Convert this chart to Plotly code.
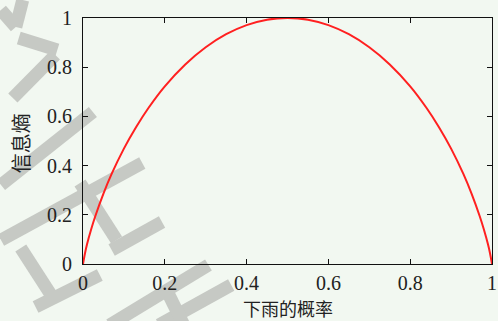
import plotly.graph_objects as go

# Probability of rain and the corresponding entropy (bits)
rain_prob = [0, 0.005, 0.01, 0.02, 0.03, 0.05, 0.07, 0.10, 0.13, 0.16, 0.20, 0.25,
             0.30, 0.35, 0.40, 0.45, 0.50, 0.55, 0.60, 0.65, 0.70, 0.75, 0.80,
             0.84, 0.87, 0.90, 0.93, 0.95, 0.97, 0.98, 0.99, 0.995, 1.0]
entropy = [0, 0.045, 0.081, 0.141, 0.194, 0.286, 0.366, 0.469, 0.557, 0.634, 0.722, 0.811,
           0.881, 0.934, 0.971, 0.993, 1.0, 0.993, 0.971, 0.934, 0.881, 0.811, 0.722,
           0.634, 0.557, 0.469, 0.366, 0.286, 0.194, 0.141, 0.081, 0.045, 0]

tick_vals = [0, 0.2, 0.4, 0.6, 0.8, 1.0]
tick_text = ["0", "0.2", "0.4", "0.6", "0.8", "1"]

W, H = 498, 321
L, R, T, B = 83, 1, 18, 57
PW, PH = W - L - R, H - T - B

def px(x, y):
    """pixel position -> paper coordinates"""
    return (x - L) / PW, (H - B - y) / PH

# background watermark strokes (pixel endpoints)
strokes = [
    ((22, 0), (15, 27)), ((0, 10), (15, 27)),
    ((18, 38), (57, 50)), ((55, 55), (12, 98)),
    ((93, 112), (0, 185)),
    ((0, 240), (143, 163)), ((80, 183), (117, 240)),
    ((112, 250), (163, 222)), ((20, 248), (52, 297)),
    ((35, 307), (100, 275)), ((110, 325), (210, 265)),
    ((160, 325), (233, 285)), ((170, 295), (185, 325)),
]
shapes = []
for (x0, y0), (x1, y1) in strokes:
    a0, b0 = px(x0, y0)
    a1, b1 = px(x1, y1)
    shapes.append(dict(type="line", xref="paper", yref="paper", x0=a0, y0=b0, x1=a1, y1=b1,
                       line=dict(color="#c6c9c4", width=13), layer="below"))

fig = go.Figure(go.Scatter(x=rain_prob, y=entropy, mode="lines", line_shape="spline",
                           line=dict(color="#ff2020", width=2), hoverinfo="skip"))

axis_common = dict(range=[0, 1], tickmode="array", tickvals=tick_vals, ticktext=tick_text,
                   showgrid=False, zeroline=False, showline=True, linecolor="#111",
                   linewidth=1, mirror="ticks", ticks="inside", ticklen=5, tickcolor="#111",
                   ticklabeloverflow="allow",
                   tickfont=dict(family="Liberation Serif", size=20, color="#222"))

fig.update_xaxes(**axis_common, ticklabelstandoff=1)
fig.update_yaxes(**axis_common, ticklabelstandoff=6)

fig.update_layout(
    width=W, height=H, margin=dict(l=L, r=R, t=T, b=B),
    paper_bgcolor="#f2f8f1", plot_bgcolor="#f2f8f1",
    showlegend=False, shapes=shapes,
    annotations=[
        dict(text="下雨的概率", xref="paper", yref="paper", x=0.5, y=px(0, 308)[1],
             xanchor="center", yanchor="middle", showarrow=False,
             font=dict(family="Noto Sans CJK SC", size=18, color="#222")),
        dict(text="信息熵", xref="paper", yref="paper", x=px(20, 0)[0], y=0.49,
             xanchor="center", yanchor="middle", textangle=-90, showarrow=False,
             font=dict(family="Noto Sans CJK SC", size=20, color="#222")),
    ],
)

fig.write_html("out.html")
